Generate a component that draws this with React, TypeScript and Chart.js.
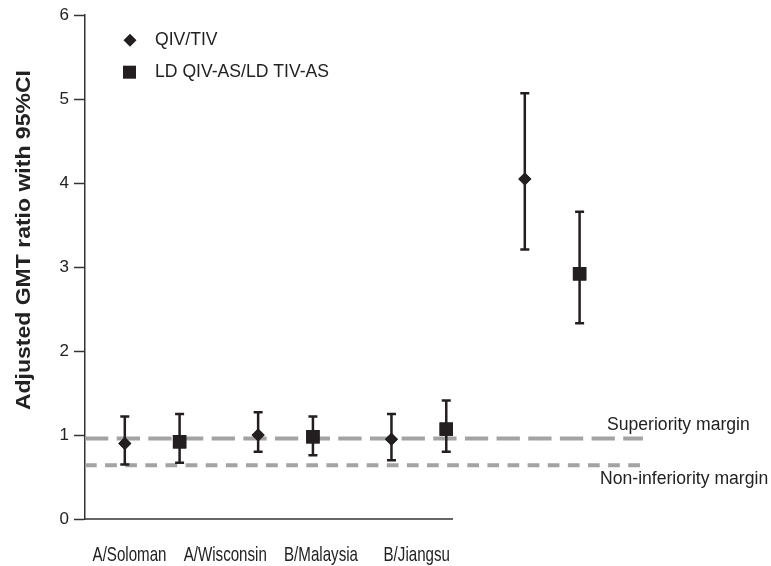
import React, { useEffect, useRef } from 'react';
import { Chart, registerables } from 'chart.js';

Chart.register(...registerables);

// ---- data ----
const categories = ['A/Soloman', 'A/Wisconsin', 'B/Malaysia', 'B/Jiangsu'];
const seriesNames = ['QIV/TIV', 'LD QIV-AS/LD TIV-AS'];
const qivRatio = [0.9, 1.0, 0.95, 4.05];
const qivLower = [0.65, 0.8, 0.7, 3.21];
const qivUpper = [1.22, 1.27, 1.25, 5.07];
const ldRatio = [0.92, 0.98, 1.07, 2.92];
const ldLower = [0.67, 0.76, 0.8, 2.33];
const ldUpper = [1.25, 1.22, 1.41, 3.66];
const yTicks = [0, 1, 2, 3, 4, 5, 6];
const marginNames = ['Superiority margin', 'Non-inferiority margin'];
const marginValues = [0.96, 0.64];
const yTitle = 'Adjusted GMT ratio with 95%CI';

// ---- layout constants (x in "group" units) ----
const X_MIN = -0.504;
const X_MAX = 3.681;
const SERIES_OFFSET = 0.2055;
const LABEL_START = -0.17;
const LABEL_STEP = 0.718;
const AXIS_END = 2.256;

const INK = '#231f20';
const TEXT = '#222222';
const DASH = '#a3a3a3';
const FONT = "'Liberation Sans', Arial, Helvetica, sans-serif";

const errorBarPlugin = {
  id: 'errorBars',
  afterDatasetsDraw(chart: any) {
    const { ctx, scales } = chart;
    const ys = scales.y;
    chart.data.datasets.forEach((ds: any, di: number) => {
      if (!ds.lower) return;
      const meta = chart.getDatasetMeta(di);
      ctx.save();
      ctx.strokeStyle = INK;
      ctx.lineWidth = 2.5;
      meta.data.forEach((pt: any, i: number) => {
        const x = pt.x;
        const yl = ys.getPixelForValue(ds.lower[i]);
        const yh = ys.getPixelForValue(ds.upper[i]);
        ctx.beginPath();
        ctx.moveTo(x, yl);
        ctx.lineTo(x, yh);
        ctx.moveTo(x - 4.5, yl);
        ctx.lineTo(x + 4.5, yl);
        ctx.moveTo(x - 4.5, yh);
        ctx.lineTo(x + 4.5, yh);
        ctx.stroke();
      });
      ctx.restore();
      // redraw the markers on top of the bars
      meta.data.forEach((pt: any) => pt.draw(ctx, chart.chartArea));
    });
  },
};

const decorPlugin = {
  id: 'decor',
  afterDraw(chart: any) {
    const { ctx, scales, chartArea } = chart;
    const xs = scales.x;
    const ys = scales.y;
    ctx.save();
    // x axis line (only under the category labels)
    const y0 = ys.getPixelForValue(0);
    ctx.strokeStyle = '#333333';
    ctx.lineWidth = 1.5;
    ctx.beginPath();
    ctx.moveTo(chartArea.left, y0);
    ctx.lineTo(xs.getPixelForValue(AXIS_END), y0);
    ctx.stroke();

    // category tick labels (condensed), at the x scale's tick positions
    ctx.fillStyle = TEXT;
    ctx.font = `21px ${FONT}`;
    ctx.textAlign = 'center';
    ctx.textBaseline = 'alphabetic';
    xs.ticks.forEach((t: any, i: number) => {
      const px = xs.getPixelForValue(t.value);
      ctx.save();
      ctx.translate(px, y0 + 42);
      ctx.scale(0.72, 1);
      ctx.fillText(categories[i], 0, 0);
      ctx.restore();
    });

    // margin labels
    ctx.font = `17.6px ${FONT}`;
    ctx.textBaseline = 'middle';
    ctx.textAlign = 'left';
    const ySup = ys.getPixelForValue(marginValues[0]);
    const yNon = ys.getPixelForValue(marginValues[1]);
    ctx.fillText(marginNames[0], chartArea.right - 36, ySup - 13);
    ctx.fillText(marginNames[1], chartArea.right - 43, yNon + 14);

    // legend
    const lx = chartArea.left + 45;
    const ly1 = chartArea.top + 25;
    const ly2 = chartArea.top + 57;
    ctx.fillStyle = INK;
    ctx.beginPath();
    ctx.moveTo(lx, ly1 - 6.5);
    ctx.lineTo(lx + 6.5, ly1);
    ctx.lineTo(lx, ly1 + 6.5);
    ctx.lineTo(lx - 6.5, ly1);
    ctx.closePath();
    ctx.fill();
    ctx.fillRect(lx - 7, ly2 - 6.5, 13, 13);
    ctx.fillStyle = TEXT;
    ctx.fillText(seriesNames[0], lx + 25, ly1);
    ctx.fillText(seriesNames[1], lx + 25, ly2);

    // y-axis title
    ctx.font = `bold 19.5px ${FONT}`;
    ctx.textAlign = 'center';
    ctx.translate(25, (chartArea.top + chartArea.bottom) / 2 - 27);
    ctx.rotate(-Math.PI / 2);
    const w = ctx.measureText(yTitle).width;
    ctx.scale(340 / w, 1);
    ctx.fillText(yTitle, 0, 0);
    ctx.restore();
  },
};

export default function App() {
  const ref = useRef<HTMLCanvasElement | null>(null);

  useEffect(() => {
    if (!ref.current) return;
    const marginLine = (v: number) => [
      { x: X_MIN, y: v },
      { x: X_MAX, y: v },
    ];
    const chart = new Chart(ref.current, {
      type: 'scatter',
      data: {
        datasets: [
          {
            label: seriesNames[0],
            data: categories.map((_, i) => ({ x: i - SERIES_OFFSET, y: qivRatio[i] })),
            lower: qivLower,
            upper: qivUpper,
            pointStyle: 'rectRot',
            pointRadius: 6.5,
            pointBackgroundColor: INK,
            pointBorderWidth: 0,
            order: 1,
          } as any,
          {
            label: seriesNames[1],
            data: categories.map((_, i) => ({ x: i + SERIES_OFFSET, y: ldRatio[i] })),
            lower: ldLower,
            upper: ldUpper,
            pointStyle: 'rect',
            pointRadius: 9.5,
            pointBackgroundColor: INK,
            pointBorderWidth: 0,
            order: 1,
          } as any,
          {
            type: 'line',
            label: marginNames[0],
            data: marginLine(marginValues[0]),
            borderColor: DASH,
            borderWidth: 4,
            borderDash: [23.3, 8.36],
            pointRadius: 0,
            fill: false,
            order: 2,
          } as any,
          {
            type: 'line',
            label: marginNames[1],
            data: marginLine(marginValues[1]),
            borderColor: DASH,
            borderWidth: 4,
            borderDash: [11.7, 8.42],
            pointRadius: 0,
            fill: false,
            order: 2,
          } as any,
        ],
      },
      options: {
        animation: false,
        responsive: false,
        layout: { padding: { left: 0, top: 15, right: 128, bottom: 0 } },
        plugins: {
          legend: { display: false },
          tooltip: { enabled: false },
        },
        scales: {
          x: {
            type: 'linear',
            min: X_MIN,
            max: X_MAX,
            grid: { display: false, drawTicks: false },
            border: { display: false },
            afterBuildTicks: (s: any) => {
              s.ticks = categories.map((_, i) => ({ value: LABEL_START + LABEL_STEP * i }));
            },
            ticks: {
              display: false,
              autoSkip: false,
              maxRotation: 0,
              minRotation: 0,
              callback: (_v: any, i: number) => categories[i],
            },
            afterFit: (s: any) => {
              s.height = 47;
            },
          },
          y: {
            type: 'linear',
            min: 0,
            max: 6,
            afterBuildTicks: (s: any) => {
              s.ticks = yTicks.map((v) => ({ value: v }));
            },
            grid: {
              drawOnChartArea: false,
              tickLength: 11,
              tickWidth: 1.5,
              tickColor: '#333333',
            },
            border: { color: '#333333', width: 1.5 },
            ticks: {
              padding: 5,
              color: TEXT,
              font: { family: FONT, size: 17 },
            },
            afterFit: (s: any) => {
              s.width = 85;
            },
          },
        },
      } as any,
      plugins: [errorBarPlugin, decorPlugin],
    });
    return () => chart.destroy();
  }, []);

  return (
    <div style={{ position: 'fixed', left: 0, top: 0, width: 771, height: 566, background: '#fff' }}>
      <canvas ref={ref} width={771} height={566} />
    </div>
  );
}
